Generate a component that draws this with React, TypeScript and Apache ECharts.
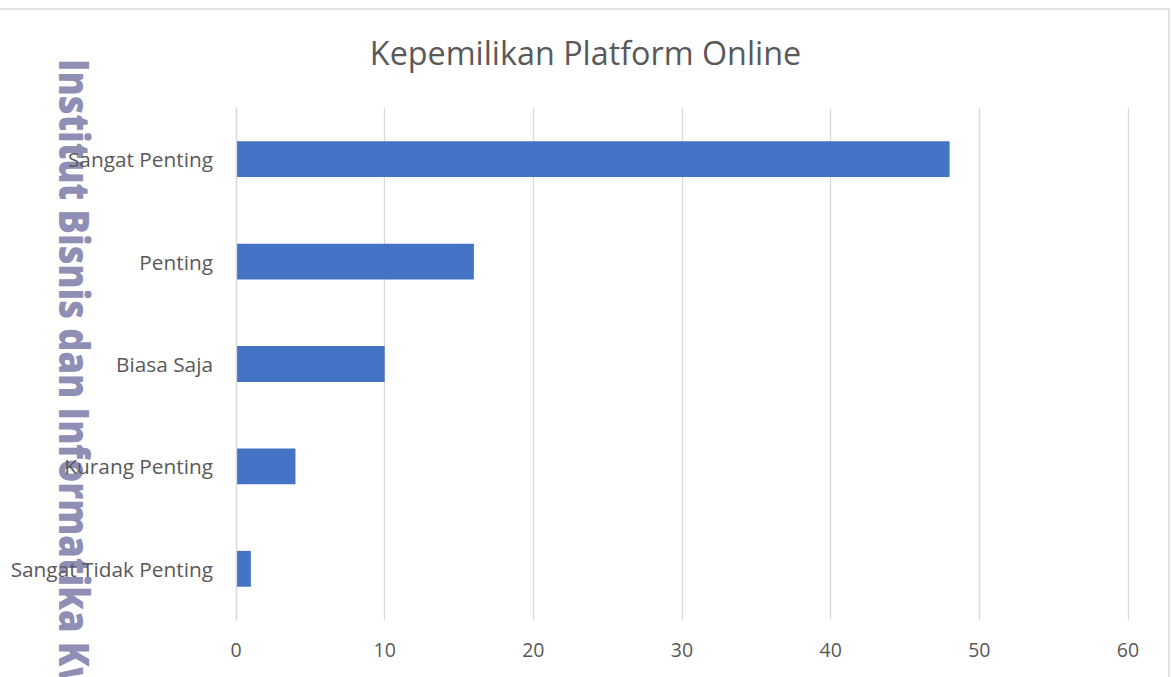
import React, { useEffect, useRef } from "react";
import * as echarts from "echarts";

const categories = ["Sangat Tidak Penting", "Kurang Penting", "Biasa Saja", "Penting", "Sangat Penting"];
const values = [1, 4, 10, 16, 48];
const titleText = "Kepemilikan Platform Online";
const watermarkText = "Institut Bisnis dan Informatika Kw";

export default function App() {
  const ref = useRef<HTMLDivElement>(null);
  useEffect(() => {
    document.body.style.margin = "0";
    const chart = echarts.init(ref.current!, null, { renderer: "svg" });
    chart.setOption({
      animation: false,
      backgroundColor: "#ffffff",
      title: {
        text: titleText,
        left: "center",
        top: 31,
        itemGap: 0,
        textStyle: { fontFamily: "Open Sans", fontSize: 32.3, fontWeight: "normal", color: "#595959" },
      },
      grid: { left: 236, right: 43, top: 108, bottom: 57, containLabel: false },
      xAxis: {
        type: "value",
        min: 0,
        max: 60,
        interval: 10,
        axisLine: { show: false },
        axisTick: { show: false },
        axisLabel: { margin: 19, fontFamily: "Open Sans", fontSize: 19.5, color: "#595959" },
        splitLine: { show: true, lineStyle: { color: "#d9d9d9", width: 1.3 } },
      },
      yAxis: {
        type: "category",
        data: categories,
        z: 5,
        axisLine: { show: true, lineStyle: { color: "#d9d9d9", width: 1.3 } },
        axisTick: { show: false },
        axisLabel: { margin: 23, fontFamily: "Open Sans", fontSize: 20.8, color: "#595959" },
      },
      series: [
        {
          type: "bar",
          data: values,
          barWidth: "35%",
          itemStyle: { color: "#4472c4" },
        },
      ],
      graphic: [
        {
          type: "rect",
          silent: true,
          z: 100,
          shape: { x: -3, y: 9, width: 1172, height: 700 },
          style: { fill: "none", stroke: "#d9d9d9", lineWidth: 1.5 },
        },
        {
          type: "text",
          silent: true,
          z: 1,
          x: 76,
          y: 59,
          rotation: -Math.PI / 2,
          scaleX: 0.86,
          style: {
            text: watermarkText,
            fontFamily: "Open Sans",
            fontWeight: 800,
            fontSize: 42,
            fill: "#8f8eb5",
            textAlign: "left",
            textVerticalAlign: "middle",
          },
        },
      ],
    });
    return () => chart.dispose();
  }, []);
  return <div ref={ref} style={{ position: "absolute", left: 0, top: 0, width: 1171, height: 677 }} />;
}
